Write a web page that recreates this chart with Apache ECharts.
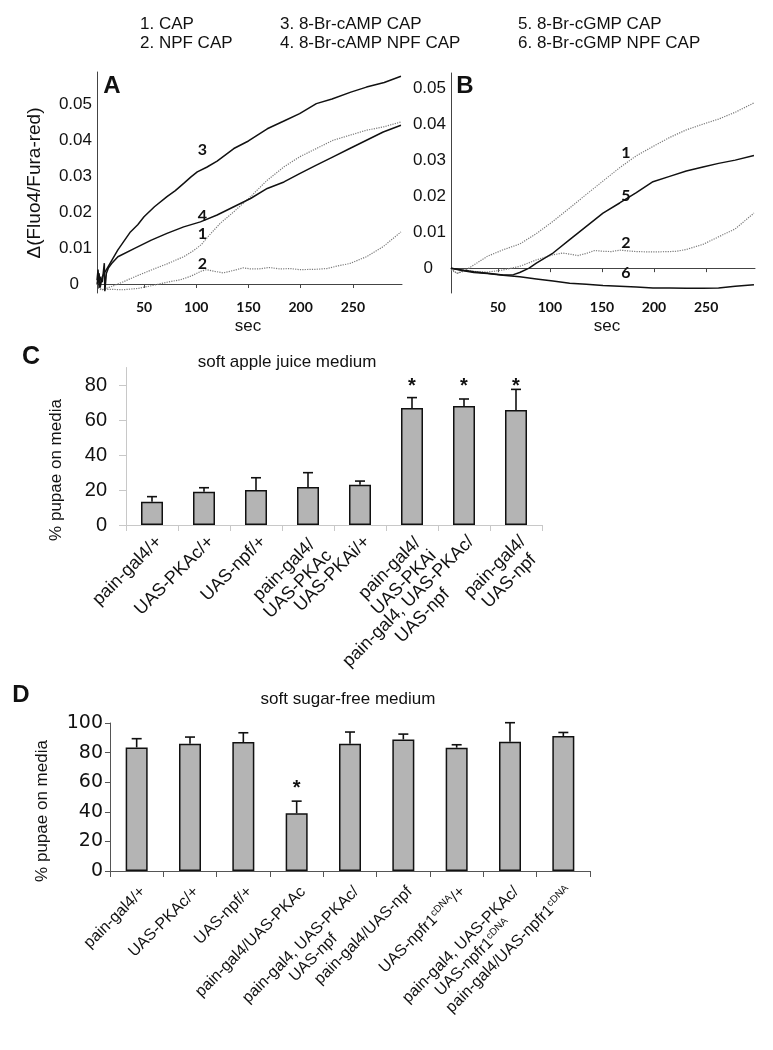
<!DOCTYPE html>
<html>
<head>
<meta charset="utf-8">
<script src="https://cdn.jsdelivr.net/npm/echarts@6/dist/echarts.min.js"></script>
<style>
html, body { margin: 0; padding: 0; background: #fff; }
#main { width: 773px; height: 1050px; }
</style>
</head>
<body>
<div id="main"></div>
<script>
var FONT = '"Liberation Sans", Arial, sans-serif';
var TAGFONT = 'Lato, "DejaVu Sans", sans-serif';

// legend text, three columns
var legendCol1 = ['1. CAP', '2. NPF CAP'];
var legendCol2 = ['3. 8-Br-cAMP CAP', '4. 8-Br-cAMP NPF CAP'];
var legendCol3 = ['5. 8-Br-cGMP CAP', '6. 8-Br-cGMP NPF CAP'];

var secTicks = [50, 100, 150, 200, 250];
var ratioTicks = [0, 0.01, 0.02, 0.03, 0.04, 0.05];

// panel A traces: [sec, delta(Fluo4/Fura-red)]
var a1 = [[6, -0.001], [9, -0.0017], [19, -0.0007], [30, 0.0006], [41, 0.002], [57, 0.0039], [72, 0.0056], [88, 0.0076], [98, 0.0094], [105, 0.011], [111, 0.0131], [123, 0.0169], [136, 0.0201], [152, 0.0243], [168, 0.0289], [184, 0.0326], [199, 0.0354], [215, 0.0377], [231, 0.04], [247, 0.0414], [263, 0.0428], [279, 0.0437], [296, 0.0451]];
var a2 = [[6, -0.001], [10, -0.0015], [20, -0.0015], [30, -0.0016], [45, -0.0012], [60, -0.0003], [72, 0.0005], [85, 0.0012], [95, 0.0022], [105, 0.0036], [110, 0.004], [118, 0.0035], [126, 0.0031], [136, 0.0038], [145, 0.0045], [152, 0.0042], [160, 0.0042], [170, 0.0046], [180, 0.0042], [190, 0.0043], [199, 0.004], [215, 0.0041], [225, 0.0043], [235, 0.005], [247, 0.0057], [263, 0.0076], [279, 0.0104], [296, 0.0145]];
var a3 = [[5, 0], [7, 0.003], [8, -0.001], [10, 0.002], [12, 0.003], [15, 0.0045], [20, 0.007], [25, 0.0095], [31, 0.012], [37, 0.0145], [44, 0.0165], [50, 0.0187], [60, 0.0215], [72, 0.0243], [80, 0.026], [88, 0.028], [95, 0.0298], [101, 0.0312], [110, 0.0325], [120, 0.0342], [136, 0.0377], [150, 0.0398], [168, 0.0432], [185, 0.0455], [199, 0.0474], [215, 0.0502], [230, 0.0515], [248, 0.0534], [263, 0.0548], [280, 0.0561], [296, 0.0578]];
var a4 = [[5, 0.001], [6, 0.004], [7, -0.001], [8, 0.002], [10, 0.0005], [12, 0.0058], [12.5, -0.002], [14, 0.003], [16, 0.0045], [19, 0.0057], [25, 0.0076], [41, 0.0099], [57, 0.0122], [72, 0.0141], [88, 0.0159], [104, 0.0173], [120, 0.0192], [136, 0.0215], [152, 0.0238], [168, 0.0266], [184, 0.0284], [199, 0.0307], [215, 0.0331], [231, 0.0354], [247, 0.0377], [263, 0.04], [279, 0.0423], [296, 0.0442]];

// panel B traces
var b1 = [[5, -0.0005], [11, -0.0014], [17, -0.0009], [27, 0.0009], [40, 0.0033], [55, 0.0051], [71, 0.0067], [87, 0.0096], [103, 0.013], [119, 0.0167], [135, 0.0205], [151, 0.0242], [167, 0.0279], [183, 0.0312], [199, 0.0338], [215, 0.0363], [231, 0.0384], [247, 0.04], [262, 0.0414], [278, 0.0433], [296, 0.0459]];
var b2 = [[5, -0.0002], [11, -0.0015], [17, -0.0005], [27, -0.0009], [40, -0.0011], [55, -0.0005], [71, 0.0005], [87, 0.0023], [103, 0.0037], [112, 0.0042], [119, 0.0039], [127, 0.0035], [135, 0.0041], [143, 0.0049], [151, 0.0047], [159, 0.0046], [167, 0.005], [175, 0.0048], [183, 0.0046], [199, 0.0045], [215, 0.0046], [222, 0.0047], [231, 0.0052], [247, 0.0066], [262, 0.0087], [278, 0.0109], [296, 0.0153]];
var b5 = [[5, 0], [17, -0.0006], [27, -0.001], [40, -0.0014], [55, -0.0019], [65, -0.0018], [71, -0.0012], [80, 0], [87, 0.0014], [103, 0.0042], [119, 0.0079], [135, 0.0116], [151, 0.0153], [167, 0.0181], [183, 0.021], [199, 0.024], [215, 0.0255], [231, 0.027], [247, 0.0281], [262, 0.0291], [278, 0.03], [296, 0.0313]];
var b6 = [[5, 0], [17, -0.0007], [27, -0.0012], [40, -0.0015], [55, -0.002], [71, -0.0024], [87, -0.003], [103, -0.0036], [119, -0.0042], [135, -0.0045], [151, -0.0048], [167, -0.005], [183, -0.0052], [199, -0.0055], [215, -0.0055], [231, -0.0056], [247, -0.0056], [262, -0.0055], [278, -0.005], [296, -0.0046]];

// curve number tags [text, sec, value]
var tagsA = [['3', 106, 0.0374], ['4', 106, 0.019], ['1', 106, 0.0141], ['2', 106, 0.0056]];
var tagsB = [['1', 173, 0.0321], ['5', 173, 0.02], ['2', 173, 0.007], ['6', 173, -0.0014]];

// panel C
var catsC = ['pain-gal4/+', 'UAS-PKAc/+', 'UAS-npf/+', 'pain-gal4/\nUAS-PKAc', 'UAS-PKAi/+', 'pain-gal4/\nUAS-PKAi', 'pain-gal4, UAS-PKAc/\nUAS-npf', 'pain-gal4/\nUAS-npf'];
var meanC = [13.3, 19, 20, 21.7, 23, 66.9, 68, 65.7];
var errC = [16.2, 21.3, 27, 29.9, 25.1, 72.8, 72, 77.5];
var starC = [null, null, null, null, null, 82, 82, 82];
var pctTicksC = [0, 20, 40, 60, 80];

// panel D
var catsD = ['pain-gal4/+', 'UAS-PKAc/+', 'UAS-npf/+', 'pain-gal4/UAS-PKAc', 'pain-gal4, UAS-PKAc/\nUAS-npf', 'pain-gal4/UAS-npf', 'UAS-npfr1^cDNA^/+', 'pain-gal4, UAS-PKAc/\nUAS-npfr1^cDNA', 'pain-gal4/UAS-npfr1^cDNA'];
var meanD = [83.5, 86, 87.1, 39, 86, 88.9, 83.3, 87.3, 91.2];
var errD = [89.4, 90.5, 93.4, 47.2, 93.9, 92.5, 85.3, 100.2, 93.6];
var starD = [null, null, null, 59, null, null, null, null, null];
var pctTicksD = [0, 20, 40, 60, 80, 100];

function catLabel(v) {
  return v.split('\n').map(function (line) {
    return line.split('^').map(function (part, k) {
      if (!part) return '';
      return (k % 2 ? '{s|' : '{c|') + part + '}';
    }).join('');
  }).join('\n');
}

function errSeries(xi, yi, means, errs, stars) {
  return {
    type: 'custom',
    xAxisIndex: xi,
    yAxisIndex: yi,
    z: 5,
    silent: true,
    data: means.map(function (m, i) { return [i, m, errs[i]]; }),
    encode: { x: 0, y: [1, 2] },
    renderItem: function (params, api) {
      var i = api.value(0);
      var p0 = api.coord([i, api.value(1)]);
      var p1 = api.coord([i, api.value(2)]);
      var kids = [
        { type: 'line', shape: { x1: p0[0], y1: p0[1], x2: p1[0], y2: p1[1] }, style: { stroke: '#111', lineWidth: 1.6 } },
        { type: 'line', shape: { x1: p1[0] - 5, y1: p1[1], x2: p1[0] + 5, y2: p1[1] }, style: { stroke: '#111', lineWidth: 1.6 } }
      ];
      var s = stars[params.dataIndex];
      if (s != null) {
        var ps = api.coord([i, s]);
        kids.push({ type: 'text', x: ps[0], y: ps[1] + 5, style: { text: '*', fontSize: 20, fontWeight: 'bold', fontFamily: FONT, fill: '#111', align: 'center', verticalAlign: 'middle' } });
      }
      return { type: 'group', children: kids };
    }
  };
}

function lineSeries(data, xi, yi, dotted, tags) {
  var s = {
    type: 'line',
    xAxisIndex: xi,
    yAxisIndex: yi,
    data: data,
    showSymbol: false,
    symbol: 'none',
    silent: true,
    lineStyle: dotted ? { color: '#7a7a7a', width: 1.2, type: 'dotted' } : { color: '#111', width: 1.5 }
  };
  if (tags) {
    s.markPoint = {
      symbol: 'circle', symbolSize: 0, silent: true,
      label: { show: true, position: 'inside', fontFamily: TAGFONT, fontSize: 16, fontWeight: 'bold', color: '#111' },
      data: tags.map(function (t) { return { coord: [t[1], t[2]], value: t[0], label: { formatter: t[0] } }; })
    };
  }
  return s;
}

function tagsFor(list, name) {
  return list.filter(function (t) { return t[0] === name; });
}

function ratioLabel(v) {
  return v === 0 ? '{z|0}' : String(+v.toFixed(2));
}

var plainAxisLine = { show: true, lineStyle: { color: '#444', width: 1 } };

var chart = echarts.init(document.getElementById('main'), null, { renderer: 'canvas', width: 773, height: 1050 });

var textEls = [];
function addText(t, x, y, size, opts) {
  opts = opts || {};
  textEls.push({
    type: 'text', x: x, y: y, rotation: opts.rot || 0, silent: true,
    style: { text: t, fontSize: size, fontFamily: opts.family || FONT, fontWeight: opts.weight || 'normal', fill: '#111', align: opts.align || 'left', verticalAlign: 'middle' }
  });
}
legendCol1.forEach(function (t, i) { addText(t, 140, 24 + i * 19, 17); });
legendCol2.forEach(function (t, i) { addText(t, 280, 24 + i * 19, 17); });
legendCol3.forEach(function (t, i) { addText(t, 518, 24 + i * 19, 17); });
addText('A', 112, 86, 24, { weight: 'bold', align: 'center' });
addText('B', 465, 86, 24, { weight: 'bold', align: 'center' });
addText('C', 31, 357, 25, { weight: 'bold', align: 'center' });
addText('D', 21, 695, 24, { weight: 'bold', align: 'center' });
addText('sec', 248, 326, 17, { align: 'center' });
addText('sec', 607, 326, 17, { align: 'center' });
addText('\u0394(Fluo4/Fura-red)', 35, 183, 19, { align: 'center', rot: Math.PI / 2 });
addText('soft apple juice medium', 287, 362, 17, { align: 'center' });
addText('% pupae on media', 56, 470, 17, { align: 'center', rot: Math.PI / 2 });
addText('soft sugar-free medium', 348, 699, 17, { align: 'center' });
addText('% pupae on media', 42, 811, 17, { align: 'center', rot: Math.PI / 2 });

var secAxisCommon = {
  type: 'value', min: 5, max: 297,
  axisLine: plainAxisLine,
  axisTick: { show: true, length: 4, lineStyle: { color: '#444' }, customValues: secTicks },
  axisLabel: { customValues: secTicks, fontFamily: TAGFONT, fontWeight: 'bold', fontSize: 14, color: '#111', margin: 7 },
  splitLine: { show: false }
};
var ratioAxisCommon = {
  type: 'value',
  axisLine: plainAxisLine,
  axisTick: { show: false },
  axisLabel: { customValues: ratioTicks, formatter: ratioLabel, fontFamily: FONT, fontSize: 17, color: '#111', margin: 5, rich: { z: { padding: [0, 13, 0, 0] } } },
  splitLine: { show: false }
};

var catLabelC = {
  interval: 0, rotate: 45, margin: 7, fontFamily: FONT, fontSize: 18, color: '#111',
  verticalAlign: 'top', lineHeight: 20,
  formatter: catLabel,
  rich: { c: { align: 'center', lineHeight: 20 }, s: { align: 'center', fontSize: 10, verticalAlign: 'top', lineHeight: 14 } }
};
var catLabelD = {
  interval: 0, rotate: 45, margin: 12, fontFamily: FONT, fontSize: 16, color: '#111',
  verticalAlign: 'top', lineHeight: 18,
  formatter: catLabel,
  rich: { c: { align: 'center', lineHeight: 18 }, s: { align: 'center', fontSize: 10, verticalAlign: 'top', lineHeight: 13 } }
};

var option = {
  backgroundColor: '#fff',
  animation: false,
  grid: [
    { left: 97, top: 72, width: 305, height: 221 },
    { left: 451, top: 73, width: 304, height: 220 },
    { left: 126, top: 367.5, width: 416, height: 157.5 },
    { left: 110, top: 723, width: 480, height: 148 }
  ],
  xAxis: [
    Object.assign({ gridIndex: 0 }, secAxisCommon),
    Object.assign({ gridIndex: 1 }, secAxisCommon),
    {
      gridIndex: 2, type: 'category', data: catsC,
      axisLine: { show: true, lineStyle: { color: '#c8c8c8', width: 1 } },
      axisTick: { show: true, length: 6, lineStyle: { color: '#c8c8c8' } },
      axisLabel: catLabelC
    },
    {
      gridIndex: 3, type: 'category', data: catsD,
      axisLine: { show: true, lineStyle: { color: '#555', width: 1 } },
      axisTick: { show: true, length: 6, lineStyle: { color: '#555' } },
      axisLabel: catLabelD
    }
  ],
  yAxis: [
    Object.assign({ gridIndex: 0, min: -0.0025, max: 0.059 }, ratioAxisCommon),
    Object.assign({ gridIndex: 1, min: -0.0069, max: 0.0542 }, ratioAxisCommon),
    {
      gridIndex: 2, type: 'value', min: 0, max: 90,
      axisLine: { show: true, lineStyle: { color: '#c8c8c8', width: 1 } },
      axisTick: { show: true, length: 7, lineStyle: { color: '#c8c8c8' }, customValues: pctTicksC },
      axisLabel: { customValues: pctTicksC, fontFamily: FONT, fontSize: 20, color: '#111', margin: 19 },
      splitLine: { show: false }
    },
    {
      gridIndex: 3, type: 'value', min: 0, max: 100,
      axisLine: { show: true, lineStyle: { color: '#555', width: 1 } },
      axisTick: { show: true, length: 5, lineStyle: { color: '#555' }, customValues: pctTicksD },
      axisLabel: { customValues: pctTicksD, fontFamily: '"DejaVu Sans", Verdana, sans-serif', fontSize: 19, color: '#111', margin: 7 },
      splitLine: { show: false }
    }
  ],
  series: [
    lineSeries(a1, 0, 0, true, tagsFor(tagsA, '1')),
    lineSeries(a2, 0, 0, true, tagsFor(tagsA, '2')),
    lineSeries(a3, 0, 0, false, tagsFor(tagsA, '3')),
    lineSeries(a4, 0, 0, false, tagsFor(tagsA, '4')),
    lineSeries(b1, 1, 1, true, tagsFor(tagsB, '1')),
    lineSeries(b2, 1, 1, true, tagsFor(tagsB, '2')),
    lineSeries(b5, 1, 1, false, tagsFor(tagsB, '5')),
    lineSeries(b6, 1, 1, false, tagsFor(tagsB, '6')),
    {
      type: 'bar', xAxisIndex: 2, yAxisIndex: 2, data: meanC, barWidth: 22, silent: true,
      itemStyle: { color: '#b4b4b4', borderColor: '#111', borderWidth: 1.5 }
    },
    errSeries(2, 2, meanC, errC, starC),
    {
      type: 'bar', xAxisIndex: 3, yAxisIndex: 3, data: meanD, barWidth: 22, silent: true,
      itemStyle: { color: '#b4b4b4', borderColor: '#111', borderWidth: 1.5 }
    },
    errSeries(3, 3, meanD, errD, starD)
  ],
  graphic: textEls
};

chart.setOption(option);
</script>
</body>
</html>
